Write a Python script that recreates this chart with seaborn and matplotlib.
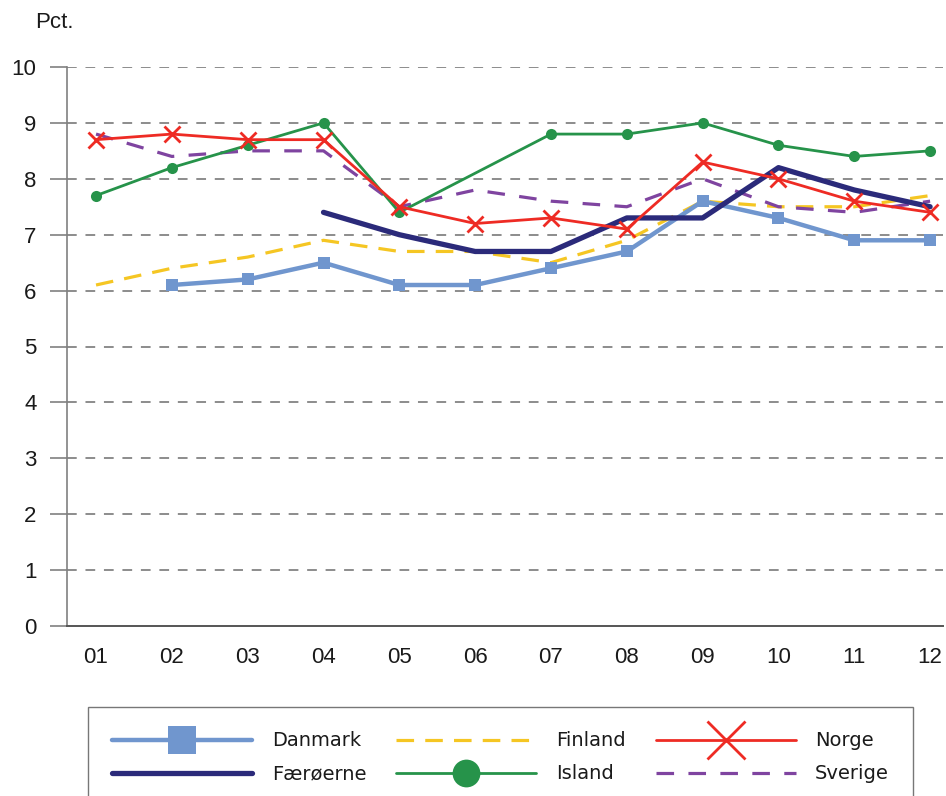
import numpy as np
import pandas as pd
import seaborn as sns
import matplotlib
matplotlib.use("Agg")
import matplotlib.pyplot as plt

years = ["01", "02", "03", "04", "05", "06", "07", "08", "09", "10", "11", "12"]
danmark = [np.nan, 6.1, 6.2, 6.5, 6.1, 6.1, 6.4, 6.7, 7.6, 7.3, 6.9, 6.9]
faeroerne = [np.nan, np.nan, np.nan, 7.4, 7.0, 6.7, 6.7, 7.3, 7.3, 8.2, 7.8, 7.5]
finland = [6.1, 6.4, 6.6, 6.9, 6.7, 6.7, 6.5, 6.9, 7.6, 7.5, 7.5, 7.7]
island = [7.7, 8.2, 8.6, 9.0, 7.4, np.nan, 8.8, 8.8, 9.0, 8.6, 8.4, 8.5]
norge = [8.7, 8.8, 8.7, 8.7, 7.5, 7.2, 7.3, 7.1, 8.3, 8.0, 7.6, 7.4]
sverige = [8.8, 8.4, 8.5, 8.5, 7.5, 7.8, 7.6, 7.5, 8.0, 7.5, 7.4, 7.6]
yticks = list(range(0, 11))

sns.set_style("white")
plt.rcParams['font.family'] = ['Liberation Sans', 'DejaVu Sans']

fig = plt.figure(figsize=(9.46, 7.96), dpi=100)
ax = fig.add_axes([67/946, 1-626/796, (943-67)/946, (626-67)/796])

xpos = np.arange(1, len(years) + 1)

series = [
    ("Danmark", danmark, dict(color="#7096CE", lw=3.2, marker="s", markersize=8,
                              markeredgewidth=0, solid_capstyle="round")),
    ("Færøerne", faeroerne, dict(color="#2B2A7A", lw=3.8, solid_capstyle="round")),
    ("Finland", finland, dict(color="#F5C623", lw=2.3, linestyle=(0, (5.5, 3.5)))),
    ("Island", island, dict(color="#26934A", lw=2.0, marker="o", markersize=8,
                            markeredgewidth=0)),
    ("Norge", norge, dict(color="#EE2B24", lw=2.0, marker="x", markersize=11,
                          markeredgewidth=2, markeredgecolor="#EE2B24")),
    ("Sverige", sverige, dict(color="#7F44A0", lw=2.3, linestyle=(0, (5.5, 4.5)))),
]

for y in yticks[1:]:
    ax.axhline(y, color="#8C8C8C", lw=1.4, linestyle=(0, (5, 4.5)), zorder=0)

draw_order = ["Finland", "Sverige", "Danmark", "Færøerne", "Island", "Norge"]
sdict = {n: (v, k) for n, v, k in series}
for name in draw_order:
    vals, kw = sdict[name]
    df = pd.DataFrame({"x": xpos, "y": vals}).dropna()
    sns.lineplot(data=df, x="x", y="y", ax=ax, label=name, zorder=3, **kw)

ax.set_xlim(0.617, 12.17)
ax.set_ylim(0, 10)
ax.set_xticks(xpos)
ax.set_xticklabels(years)
ax.set_yticks(yticks)
ax.set_yticklabels([str(t) for t in yticks])
ax.set_xlabel("")
ax.set_ylabel("")
ax.tick_params(axis="y", length=12, width=1.2, color="#808080", pad=10, labelsize=16,
               left=True, direction="out", labelcolor="#1a1a1a")
ax.tick_params(axis="x", length=0, pad=15, labelsize=16, labelcolor="#1a1a1a")
for s in ["top", "right"]:
    ax.spines[s].set_visible(False)
ax.spines["left"].set_color("#808080")
ax.spines["left"].set_linewidth(1.2)
ax.spines["bottom"].set_color("#555555")
ax.spines["bottom"].set_linewidth(1.4)

fig.text(35/946, 1-22/796, "Pct.", fontsize=16, va="center", ha="left", color="#1a1a1a")

handles, labels = ax.get_legend_handles_labels()
hmap = dict(zip(labels, handles))
order = ["Danmark", "Færøerne", "Finland", "Island", "Norge", "Sverige"]
leg = ax.legend([hmap[n] for n in order], order, loc="upper left",
                bbox_to_anchor=(88/946, 1-707/796), bbox_transform=fig.transFigure,
                ncol=3, fontsize=14, handlelength=7.2, handletextpad=1.0,
                columnspacing=1.55, labelspacing=0.72, borderpad=1.25,
                markerscale=2.5, frameon=True, fancybox=False, borderaxespad=0)
leg.get_frame().set_edgecolor("#555555")
leg.get_frame().set_linewidth(1.0)
for t in leg.get_texts():
    t.set_family(["DejaVu Sans"])
    t.set_color("#1a1a1a")

fig.savefig("out.png", dpi=100)
